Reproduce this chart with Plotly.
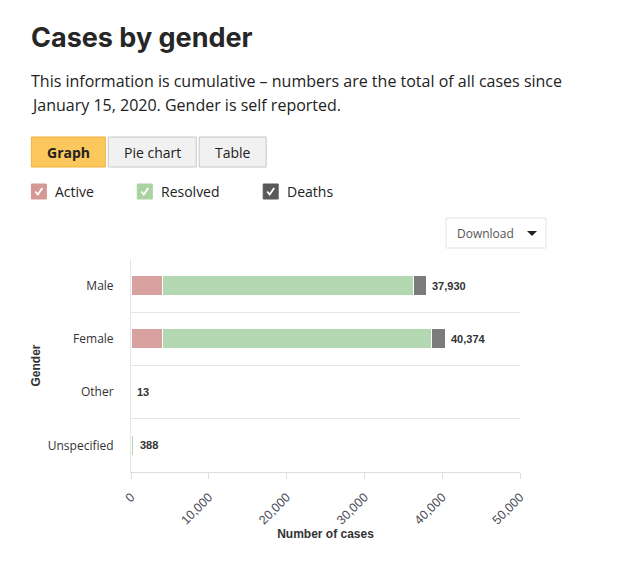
import plotly.graph_objects as go

# ---- data ----
genders = ["Male", "Female", "Other", "Unspecified"]
active = [4020, 4000, 0, 20]
resolved = [32330, 34570, 13, 360]
deaths = [1580, 1804, 0, 8]
totals = [a + r + d for a, r, d in zip(active, resolved, deaths)]
x_ticks = [0, 10000, 20000, 30000, 40000, 50000]

series_names = ["Active", "Resolved", "Deaths"]
bar_colors = ["#d8a19f", "#b3d7b0", "#7b7b7b"]
legend_colors = ["#d39894", "#a9d3a1", "#595959"]

W, H = 624, 570
L, R, T, B = 130.7, 104, 259, 98
PW, PH = W - L - R, H - T - B


def px(x):
    return (x - L) / PW


def py(y):
    return (H - B - y) / PH


fig = go.Figure()
for name, vals, col in zip(series_names, [active, resolved, deaths], bar_colors):
    fig.add_trace(go.Bar(
        y=genders, x=vals, name=name, orientation="h",
        marker=dict(color=col, line=dict(color="white", width=1)),
        width=0.38, showlegend=False,
    ))

# total labels
for g, t in zip(genders, totals):
    fig.add_annotation(x=t, y=g, xref="x", yref="y", text=f"<b>{t:,}</b>",
                       showarrow=False, xanchor="left", xshift=4,
                       font=dict(family="Liberation Sans, Arial", size=11, color="#333"))

shapes = []
ann = []
font_body = "Open Sans, sans-serif"

# title & description
ann.append(dict(x=px(29), y=py(38), text="<b>Cases by gender</b>", xanchor="left", yanchor="middle",
                font=dict(family="Inter, Open Sans, sans-serif", size=27, color="#262626")))
ann.append(dict(x=px(29), y=py(81), text="This information is cumulative – numbers are the total of all cases since",
                xanchor="left", yanchor="middle", font=dict(family=font_body, size=16, color="#222")))
ann.append(dict(x=px(29), y=py(105), text="January 15, 2020. Gender is self reported.",
                xanchor="left", yanchor="middle", font=dict(family=font_body, size=16, color="#222")))

# buttons
buttons = [("Graph", 31, 105, "#fcc75c", "#f0b33a", True),
           ("Pie chart", 108, 196, "#f1f1f1", "#c8c8c8", False),
           ("Table", 199, 266, "#f1f1f1", "#c8c8c8", False)]
for label, x0, x1, fill, line, bold in buttons:
    shapes.append(dict(type="rect", xref="paper", yref="paper", x0=px(x0), x1=px(x1), y0=py(167), y1=py(137),
                       fillcolor=fill, line=dict(color=line, width=1), layer="above"))
    ann.append(dict(x=px((x0 + x1) / 2), y=py(152), text=f"<b>{label}</b>" if bold else label,
                    xanchor="center", yanchor="middle", font=dict(family=font_body, size=14, color="#222")))

# legend checkboxes
leg_x = [31, 137, 263]
for name, col, x0 in zip(series_names, legend_colors, leg_x):
    shapes.append(dict(type="rect", xref="paper", yref="paper", x0=px(x0), x1=px(x0 + 15), y0=py(199), y1=py(184),
                       fillcolor=col, line=dict(color=col, width=1), layer="above"))
    shapes.append(dict(type="path", xref="paper", yref="paper",
                       path=f"M {px(x0+4)} {py(191.5)} L {px(x0+6.5)} {py(194.5)} L {px(x0+11)} {py(188)}",
                       line=dict(color="white", width=1.8), layer="above"))
    ann.append(dict(x=px(x0 + 22), y=py(191.5), text=name, xanchor="left", yanchor="middle",
                    font=dict(family=font_body, size=14, color="#222")))

# download box
shapes.append(dict(type="rect", xref="paper", yref="paper", x0=px(446), x1=px(546), y0=py(248), y1=py(218),
                   fillcolor="white", line=dict(color="#e3e3e3", width=1), layer="above"))
ann.append(dict(x=px(455), y=py(233), text="Download", xanchor="left", yanchor="middle",
                font=dict(family=font_body, size=12, color="#555")))
shapes.append(dict(type="path", xref="paper", yref="paper",
                   path=f"M {px(527)} {py(231)} L {px(537)} {py(231)} L {px(532)} {py(236)} Z",
                   fillcolor="#222", line=dict(color="#222", width=0), layer="above"))

for a in ann:
    a.update(xref="paper", yref="paper", showarrow=False)
    fig.add_annotation(**a)

fig.update_layout(
    width=W, height=H, margin=dict(l=L, r=R, t=T, b=B, autoexpand=False),
    paper_bgcolor="white", plot_bgcolor="white",
    barmode="stack", shapes=shapes,
    xaxis=dict(range=[0, 50000], tickvals=x_ticks, tickformat=",", tickangle=-45,
               showgrid=False, zeroline=False, showline=True, linecolor="#dedede", linewidth=1,
               ticks="outside", ticklen=6, tickcolor="#dedede", ticklabelstandoff=6,
               tickfont=dict(family="Liberation Sans, Arial", size=12.5, color="#4a4a5a"),
               title=dict(text="<b>Number of cases</b>", standoff=0,
                          font=dict(family="Liberation Sans, Arial", size=12, color="#333"))),
    yaxis=dict(categoryorder="array", categoryarray=genders, autorange="reversed",
               tickson="boundaries", showgrid=True, gridcolor="#e6e6e6", gridwidth=1,
               showline=True, linecolor="#e6e6e6", ticks="", zeroline=False,
               ticklabelstandoff=14,
               tickfont=dict(family=font_body, size=12, color="#333"),
               title=dict(text="<b>Gender</b>", standoff=4,
                          font=dict(family="Liberation Sans, Arial", size=12, color="#333"))),
)

fig.write_html("out.html")
